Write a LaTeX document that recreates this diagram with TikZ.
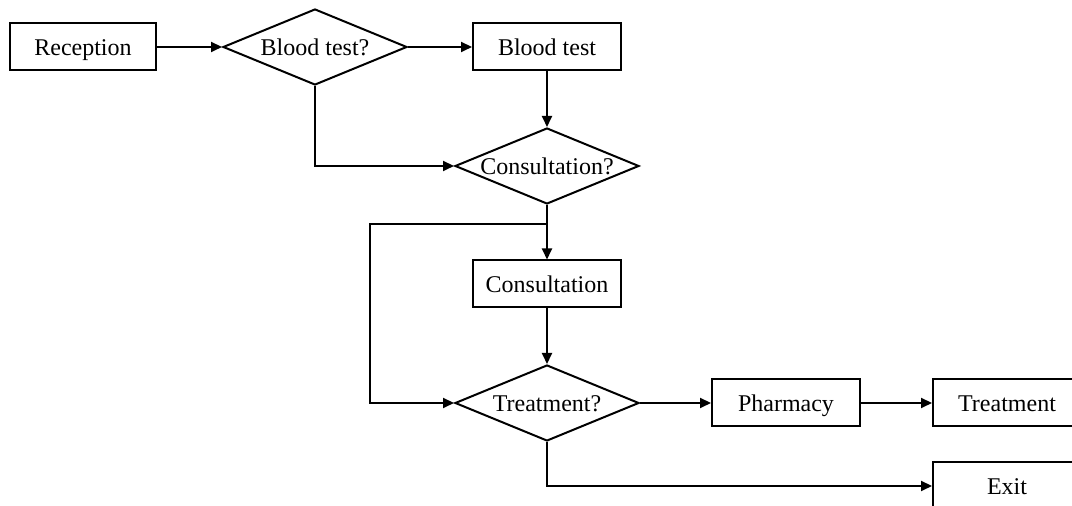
\documentclass[tikz,border=0pt]{standalone}
\usepackage{fontspec}
\setmainfont{Liberation Serif}
\usetikzlibrary{shapes.geometric,arrows.meta}
\tikzset{
	box/.style={draw, line width=1pt, minimum width=74pt, minimum height=23.5pt, inner sep=2pt, text height=8.5pt, text depth=0pt},
	decision/.style={draw, diamond, line width=1pt, aspect=2.42, minimum width=92pt, minimum height=38pt, inner sep=0pt, text height=8.5pt, text depth=0pt},
	flow/.style={->, line width=1pt}
}
\begin{document}
\begin{tikzpicture}[font=\fontsize{12}{14}\selectfont, line join=miter, >={Triangle[length=5.5pt,width=5pt]}, x=0.5pt, y=-0.5pt]
	\clip (0,0) rectangle (1072,506);
	\node[box, minimum width=73pt] (reception) at (83,47) {Reception};
	\node[decision] (bloodq) at (315,47) {Blood test?};
	\node[box] (blood) at (547,47) {Blood test};
	\node[decision] (consultq) at (547,166) {Consultation?};
	\node[box] (consult) at (547,284) {Consultation};
	\node[decision] (treatq) at (547,403) {Treatment?};
	\node[box] (pharmacy) at (786,403) {Pharmacy};
	\node[box] (treatment) at (1007,403) {Treatment};
	\node[box] (exit) at (1007,486) {Exit};
	\coordinate (bend) at (370,224);
	\draw[flow] (reception) -- (bloodq);
	\draw[flow] (bloodq) -- (blood);
	\draw[flow] (blood) -- (consultq);
	\draw[flow] (bloodq.south) |- (consultq.west);
	\draw[flow] (consultq) -- (consult);
	\draw[flow] (consultq.south) |- (bend) |- (treatq.west);
	\draw[flow] (consult) -- (treatq);
	\draw[flow] (treatq) -- (pharmacy);
	\draw[flow] (pharmacy) -- (treatment);
	\draw[flow] (treatq.south) |- (exit.west);
\end{tikzpicture}
\end{document}
